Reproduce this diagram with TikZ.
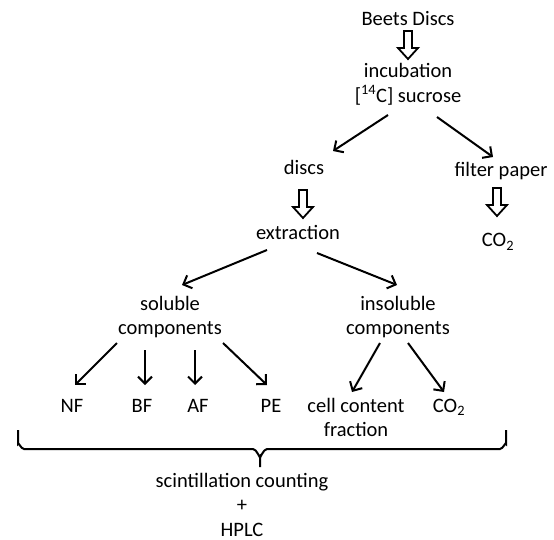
\documentclass[tikz,border=0pt]{standalone}
\usepackage{fontspec}
\setmainfont{Carlito}
\usetikzlibrary{arrows.meta,calc}
\newcommand{\twol}[2]{\begin{tabular}[t]{@{}c@{}}#1\\#2\end{tabular}}
\begin{document}
\begin{tikzpicture}[x=1pt,y=-1pt,
  txt/.style={inner sep=0pt, anchor=base, font=\fontsize{20.5}{24.5}\selectfont},
  arr/.style={line width=2pt, -{Straight Barb[length=7pt,width=14pt]}},
  hollow/.pic={\draw[line width=1.8pt,fill=white,line join=miter] (-4,0) -- (-4,17) -- (-10,17) -- (0,28) -- (10,17) -- (4,17) -- (4,0) -- cycle;}
]
\useasboundingbox (0,0) rectangle (554,540);

\node[txt] (beets) at (408,26) {Beets Discs};
\node[txt] (inc) at (408,78) {\twol{incubation}{{[}\textsuperscript{14}C{]} sucrose}};
\node[txt] (discs) at (304,175) {discs};
\node[txt] (filter) at (501,177) {filter paper};
\node[txt] (extr) at (298,240) {extraction};
\node[txt] (co2a) at (498,247) {CO\textsubscript{2}};
\node[txt] (sol) at (170,310) {\twol{soluble}{components}};
\node[txt] (insol) at (398,310) {\twol{insoluble}{components}};
\node[txt] (nf) at (72,412) {NF};
\node[txt] (bf) at (142,412) {BF};
\node[txt] (af) at (198,412) {AF};
\node[txt] (pe) at (271,412) {PE};
\node[txt] (cell) at (356,412) {\twol{cell content}{fraction}};
\node[txt] (co2b) at (449,412) {CO\textsubscript{2}};
\node[txt] (scint) at (242,487) {\begin{tabular}[t]{@{}c@{}}scintillation counting\\+\\HPLC\end{tabular}};

% hollow arrows
\pic at ($(beets.base)+(0,5)$) {hollow};
\pic at ($(discs.base)+(-1,15)$) {hollow};
\pic at ($(filter.base)+(-4,11)$) {hollow};

% arrows
\draw[arr] ($(inc.base)+(-20,37)$) -- ($(discs.base)+(29,-24)$);
\draw[arr] ($(inc.base)+(29,39)$) -- ($(filter.base)+(-8,-20)$);
\draw[arr] ($(extr.base)+(-31,10)$) -- ($(sol.base)+(12,-25)$);
\draw[arr] ($(extr.base)+(19,13)$) -- ($(insol.base)+(-1,-25)$);
\draw[arr] ($(sol.base)+(-53,33)$) -- ($(nf.base)+(3,-27)$);
\draw[arr] ($(sol.base)+(-25,40)$) -- ($(bf.base)+(3,-27)$);
\draw[arr] ($(sol.base)+(25,40)$) -- ($(af.base)+(-3,-27)$);
\draw[arr] ($(sol.base)+(53,33)$) -- ($(pe.base)+(-4,-27)$);
\draw[arr] ($(insol.base)+(-18,33)$) -- ($(cell.base)+(-4,-20)$);
\draw[arr] ($(insol.base)+(10,33)$) -- ($(co2b.base)+(-5,-20)$);

% brace
\draw[line width=2pt] (18,430) -- (18,444) to[out=90,in=180] (24,449) -- (253,449) to[out=0,in=-90] (260,456) -- ($(scint.base)+(18,-20)$);
\draw[line width=2pt] (506,430) -- (506,444) to[out=90,in=0] (500,449) -- (267,449) to[out=180,in=-90] (260,456);
\end{tikzpicture}
\end{document}
